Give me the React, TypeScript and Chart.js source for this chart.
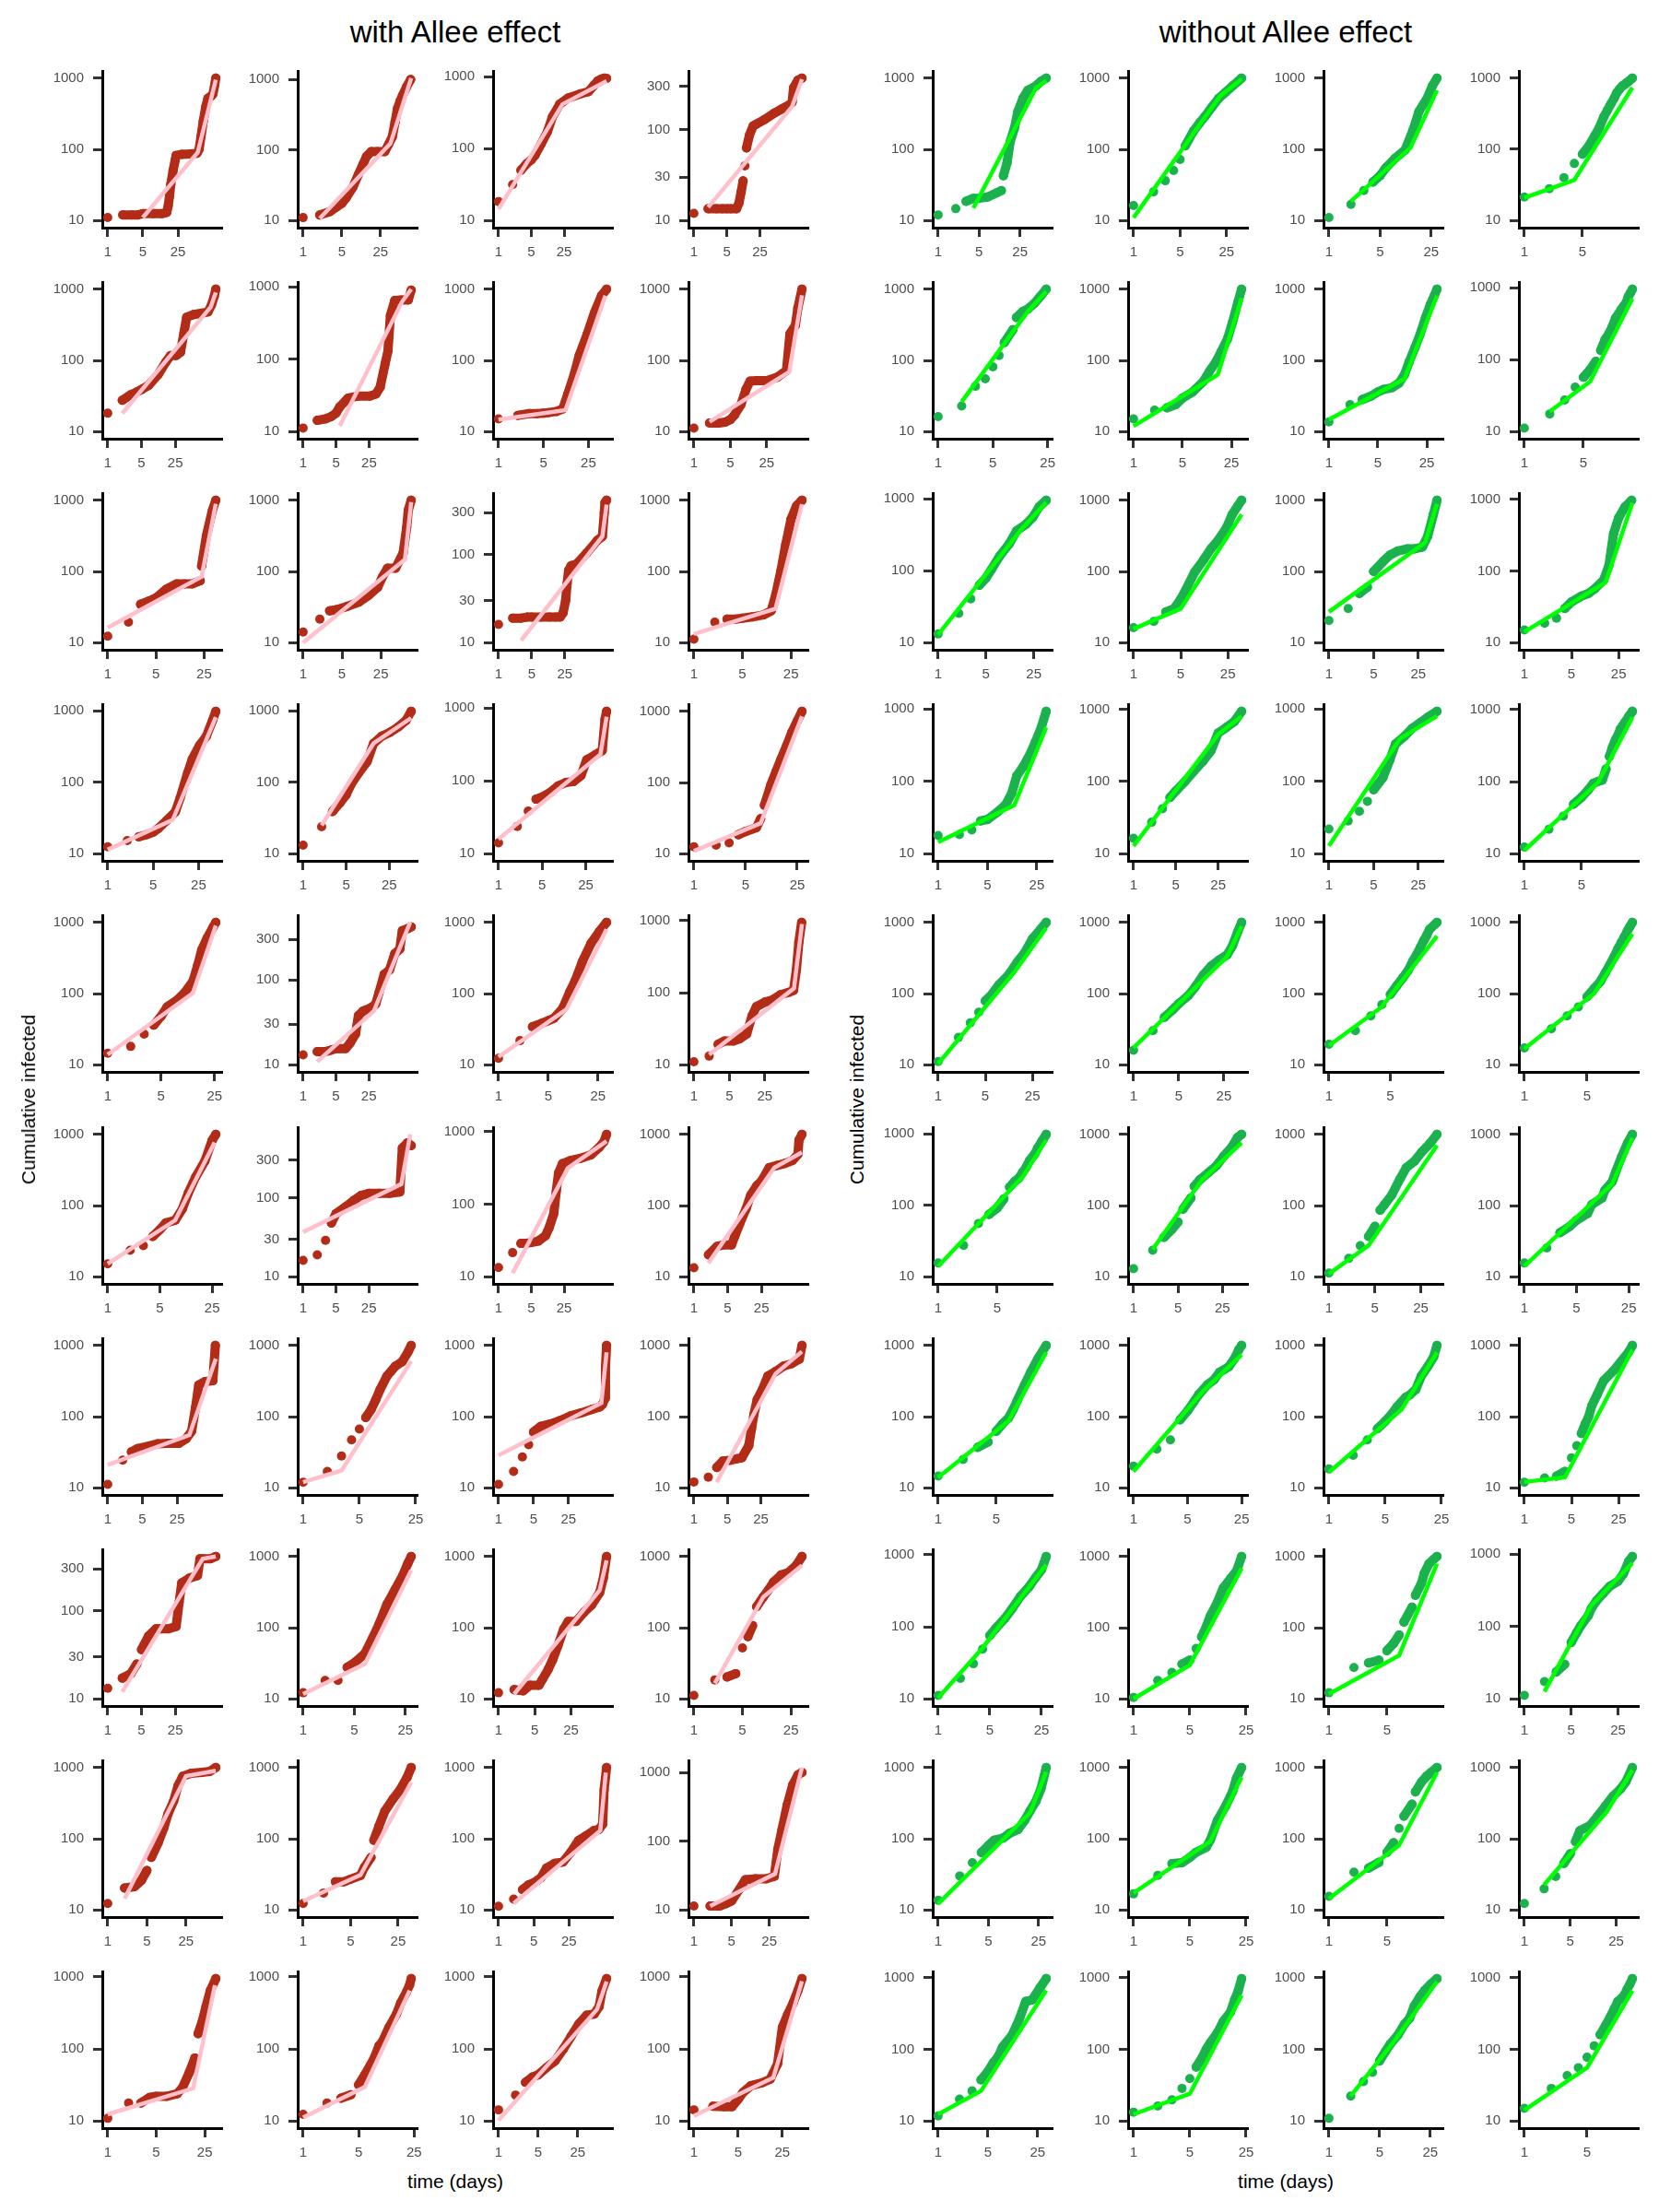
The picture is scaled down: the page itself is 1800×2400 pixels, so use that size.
import React, { useEffect, useRef } from "react";
import { Chart, registerables } from "chart.js";

Chart.register(...registerables);

type P = [number, number];

// ---------- texts & tick labels ----------
const GROUP_TITLES = ["with Allee effect", "without Allee effect"];
const Y_AXIS_TITLE = "Cumulative infected";
const X_AXIS_TITLE = "time (days)";
const X_TICKS = [1, 5, 25];
const Y_TICKS_WIDE = [10, 100, 1000];
const Y_TICKS_NARROW = [10, 30, 100, 300];
// starting case count (day 0, not drawable on a log time axis, but part of the y range)
const START_COUNT = 10;

// ---------- "with Allee effect" : observed points (day, cumulative) per row, 4 panels each ----------
const A_R0_PTS: P[][] = [
  [[1,11],[2,12],[3,12],[4,12],[5,12.5],[8,12.5],[12,12.5],[15,13],[16,16],[17,22],[18,32],[20,50],[22,70],[23,82],[30,85],[45,86],[60,88],[66,100],[72,150],[80,250],[90,400],[99,520],[115,560],[125,600],[135,800],[142,1000]],
  [[1,11],[2,12],[3,13.3],[4,15.5],[5,17.5],[6,21],[8,30],[10,45],[12,62],[14,81],[17,95],[22,95],[30,95],[35,120],[41,154],[46,250],[51,390],[57,500],[63,600],[75,800],[88,1000]],
  [[1,18.4],[2,31.6],[3,50],[4,62],[5,70],[6,81],[8,115],[11,172],[14,275],[20,415],[30,505],[56,580],[82,620],[107,760],[130,880],[155,930],[180,960],[200,950]],
  [[1,12],[2,13.5],[3,13.5],[4,13.5],[5,13.5],[6,13.5],[8,13.5],[9,15.6],[10,20.6],[11,27.3],[12,40],[13,63],[15,87],[18,110],[21,115],[31,129],[51,153],[74,170],[108,190],[120,200],[129,290],[159,350],[194,370]],
];
const A_R0_FIT: P[][] = [[[5,11],[62,90],[142,950]], [[2,10.7],[38,124],[90,1050]], [[1,14.4],[23,415],[200,870]], [[2,14],[120,180],[194,360]]];

const A_R1_PTS: P[][] = [
  [[1,18.1],[2,27.5],[3,33],[4,36],[5,39],[7,44.5],[11,63],[16,95],[20,117],[26,117],[32,130],[38,250],[43,404],[60,440],[90,460],[119,480],[140,600],[160,800],[172,1000]],
  [[1,11.2],[2,14.3],[3,15],[4,16.2],[5,18],[6,22],[9,29],[15,31],[26,31],[35,33],[43,41],[55,87],[63,130],[71,400],[88,650],[120,660],[170,660],[196,900]],
  [[1,15.1],[2,16.9],[3,17.9],[4,17.9],[5,18.1],[6,18.5],[8,19.2],[10,20.8],[12,33.8],[15,63],[18,117],[24,234],[31,465],[40,810],[48,1000]],
  [[1,11.2],[2,13.2],[3,13.2],[4,13.6],[5,14.7],[6,17],[8,23.9],[10,39],[12,51],[16,52],[25,52],[40,58],[60,72],[70,237],[89,310],[99,540],[119,1000]],
];
const A_R1_FIT: P[][] = [[[2,18],[135,560],[172,900]], [[6,12],[125,620],[196,930]], [[1,14.7],[11,20],[46,810]], [[2,13.7],[68,69],[119,820]]];

const A_R2_PTS: P[][] = [
  [[1,12.3],[2,19.4],[3,34.6],[4,38.6],[5,42.5],[7,56],[10,67],[13,67],[17,67],[22,74],[23,119],[27,315],[33,720],[37,1000]],
  [[1,14.1],[2,21.4],[3,28],[4,29],[6,32],[10,37],[15,46],[22,60],[27,85],[33,111],[46,111],[63,181],[73,415],[78,720],[88,1000]],
  [[1,16.1],[2,19],[3,19],[4,19.5],[5,19.5],[8,19.5],[12,19.5],[16,19.5],[20,19.5],[23,21.8],[26,30],[28,47],[30,66],[34,75],[44,78],[72,104],[121,145],[155,161],[170,300],[176,390],[190,415]],
  [[1,11.2],[2,19.4],[3,21.4],[4,21.4],[5,22],[7,23],[10,24.5],[13,28],[15,46],[18,104],[21,238],[25,540],[30,830],[36,1000]],
];
const A_R2_FIT: P[][] = [[[1,16.2],[23,84],[37,890]], [[1,10],[68,147],[88,940]], [[3,10.6],[155,161],[190,370]], [[1,13.2],[15,30],[36,880]]];

const A_R3_PTS: P[][] = [
  [[1,12.5],[2,15.3],[3,17.2],[4,18.5],[5,20],[6,22.5],[8,28.9],[11,38.7],[13,60],[17,135],[20,210],[26,330],[33,440],[41,730],[46,980]],
  [[1,13.2],[2,23.8],[3,38.8],[4,52],[5,66.5],[6,93],[8,135],[11,195],[14,350],[19,440],[26,500],[35,590],[47,730],[57,980]],
  [[1,14.1],[2,23.7],[3,38.5],[4,56],[5,60],[7,71],[9,85],[12,95],[16,98],[21,118],[26,195],[35,225],[46,260],[51,700],[54,900]],
  [[1,12.5],[2,13.2],[3,14.2],[4,18.5],[5,20.5],[7,23.2],[8,31],[9,48],[11,93],[13,145],[15,210],[18,330],[21,500],[25,730],[29,1000]],
];
const A_R3_FIT: P[][] = [[[1,11.4],[10,29.7],[46,810]], [[2,24.9],[14,350],[57,790]], [[1,15.8],[43,230],[54,760]], [[1,10.9],[8,26.8],[29,850]]];

const A_R4_PTS: P[][] = [
  [[1,14.5],[2,18.1],[3,26.9],[4,36],[5,48],[6,65],[8,80],[10,101],[13,147],[15,245],[17,410],[20,600],[24,860],[26,1000]],
  [[1,13.1],[2,14.3],[3,14.3],[4,14.9],[5,15.5],[6,15.5],[8,15.5],[10,18],[13,23],[15,37.9],[19,43],[28,47],[35,52],[41,70],[53,116],[69,131],[89,203],[114,230],[129,380],[167,400],[199,420]],
  [[1,12.3],[2,21.8],[3,34.2],[4,38],[5,41.6],[6,45],[8,62],[10,105],[12,153],[15,278],[20,510],[26,740],[33,1000]],
  [[1,11],[2,13.2],[3,19.3],[4,21.4],[6,21.4],[8,23],[11,26.7],[14,48],[17,64],[25,74],[36,80],[51,94],[73,101],[92,108],[105,210],[117,500],[133,950]],
];
const A_R4_FIT: P[][] = [[[1,13.9],[13,101],[26,900]], [[2,10.9],[32,43],[190,475]], [[1,12.9],[9,60],[33,800]], [[2,13.8],[94,115],[135,900]]];

const A_R5_PTS: P[][] = [
  [[1,15.2],[2,23.6],[3,27.4],[4,36.8],[5,46],[6,57],[8,62],[10,90],[12,150],[15,250],[20,420],[25,820],[28,1000]],
  [[1,16.1],[2,19],[3,29],[4,48],[5,63],[8,77],[12,93],[17,107],[25,114],[41,114],[69,114],[114,119],[129,430],[167,500],[199,460]],
  [[1,13.4],[2,21.5],[3,28.8],[4,29],[5,29.7],[7,31],[10,36.7],[12,47.7],[15,74],[17,152],[19,270],[23,362],[34,400],[56,430],[93,480],[137,600],[176,730],[200,920]],
  [[1,13.4],[2,20.3],[3,26.6],[4,28],[6,28],[7,36.8],[9,57],[12,90],[15,140],[20,190],[25,220],[36,340],[52,365],[76,390],[110,430],[142,525],[149,830],[172,1000]],
];
const A_R5_FIT: P[][] = [[[1,15.2],[8,62],[27,770]], [[1,37],[123,150],[190,640]], [[2,11.2],[30,315],[200,740]], [[2,15.6],[46,340],[172,560]]];

const A_R6_PTS: P[][] = [
  [[1,11.2],[2,24.4],[3,32],[4,35.5],[6,37.8],[10,41.5],[16,42],[27,42],[38,49],[49,62.5],[59,137],[68,278],[91,310],[131,320],[147,1000]],
  [[1,12],[2,17],[3,28],[4,47],[5,67],[6,97],[7,126],[8,173],[9,237],[11,370],[14,510],[17,590],[20,800],[22,1000]],
  [[1,11.2],[2,17],[3,27.2],[4,40.4],[5,60.7],[7,73],[11,79],[17,88],[28,103],[45,113],[73,126],[106,137],[119,148],[133,180],[137,500],[144,1000]],
  [[1,12.1],[2,14.1],[3,19.3],[4,23.7],[6,24.5],[8,25.6],[10,26.4],[14,39],[16,68],[18,108],[21,173],[27,240],[35,370],[51,430],[74,510],[108,550],[159,640],[181,1000]],
];
const A_R6_FIT: P[][] = [[[1,21],[44,55],[150,650]], [[1,12],[3,17.5],[22,600]], [[1,28.6],[113,155],[144,800]], [[3,12],[51,400],[181,820]]];

const A_R7_PTS: P[][] = [
  [[1,13.2],[2,17.2],[3,19.3],[4,24.9],[5,36.3],[7,51.8],[10,62.6],[12,62.6],[18,62.6],[26,66.5],[30,125],[34,208],[49,236],[72,252],[81,390],[92,390],[134,390],[172,415]],
  [[1,12.2],[2,18.2],[3,18.2],[4,27.8],[5,32],[7,43.4],[9,73],[11,114],[14,213],[18,340],[23,540],[27,800],[30,1000]],
  [[1,12.2],[2,13.5],[3,13],[4,15.5],[6,15.5],[7,18.7],[9,25.6],[11,35],[14,56],[18,95],[22,122],[31,122],[45,166],[63,210],[89,310],[105,500],[121,1000]],
  [[1,11.2],[2,18.5],[3,20.3],[4,22.6],[5,52],[6,75],[7,107],[8,197],[10,270],[12,345],[14,436],[18,550],[23,595],[30,755],[36,1000]],
];
const A_R7_FIT: P[][] = [[[2,12],[92,390],[172,415]], [[1,11.7],[7,31],[30,640]], [[2,11.7],[89,335],[121,880]], [[2,16.5],[10,270],[36,750]]];

const A_R8_PTS: P[][] = [
  [[1,12.3],[2,20.3],[3,21.2],[4,26],[5,35.8],[6,54.6],[8,88.5],[10,141],[12,226],[15,336],[18,554],[22,756],[31,830],[48,855],[66,880],[85,1000]],
  [[1,12.3],[2,17.3],[3,24.9],[4,24.9],[5,27],[7,30.5],[8,39.8],[10,54.6],[11,95],[13,148],[16,245],[21,360],[27,492],[34,730],[39,1000]],
  [[1,11.3],[2,14.2],[3,19.3],[4,22.6],[5,24],[7,28.4],[9,38.7],[13,45],[19,47],[27,64],[39,95],[55,110],[78,130],[98,135],[117,160],[125,485],[140,1000]],
  [[1,11.4],[2,11.4],[3,11.4],[4,12.4],[5,13.5],[7,20],[9,27.5],[14,28.4],[22,28.4],[31,30.8],[36,76],[43,147],[54,340],[68,660],[85,920],[101,1000]],
];
const A_R8_FIT: P[][] = [[[2,14.4],[25,760],[85,900]], [[1,13.3],[7,31],[39,620]], [[2,12.3],[105,130],[135,850]], [[2,11.4],[32,33.5],[101,1180]]];

const A_R9_PTS: P[][] = [
  [[1,10.9],[2,17.8],[3,17.8],[4,21.2],[5,22],[7,22],[10,23.9],[12,29.3],[15,47.5],[18,75],[20,163],[23,243],[26,387],[30,645],[36,950]],
  [[1,12.4],[2,17.8],[3,20.8],[4,23.2],[5,31.8],[6,44],[7,59],[8,78],[9,110],[10,127],[12,197],[15,305],[17,436],[20,615],[22,780],[23,950]],
  [[1,14.3],[2,22.9],[3,34.4],[4,41],[5,43.6],[7,55],[10,68.5],[14,100],[19,148],[26,220],[36,295],[49,305],[60,390],[67,635],[81,950]],
  [[1,14.3],[2,16],[3,15.8],[4,15.8],[5,20],[6,25],[8,31],[12,34],[16,38],[21,62],[25,200],[30,295],[37,436],[44,645],[51,950]],
];
const A_R9_FIT: P[][] = [[[1,12.4],[17,28.4],[35,770]], [[1,11.2],[6,29.8],[22,650]], [[1,10.2],[55,355],[81,860]], [[1,11.8],[18,40],[51,870]]];

// ---------- "without Allee effect" ----------
const B_R0_PTS: P[][] = [
  [[1,12],[2,14.7],[3,18.6],[4,20.5],[5,20.5],[7,21.4],[10,24.5],[12,26.3],[13,42.6],[15,64.5],[17,128],[20,196],[23,340],[28,520],[34,675],[47,780],[57,900],[70,1000]],
  [[1,16.2],[2,25.3],[3,36.2],[4,50.4],[5,72],[6,112],[8,182],[10,240],[12,295],[15,390],[19,520],[24,630],[31,780],[37,900],[42,1000]],
  [[1,11],[2,16.9],[3,26.3],[4,34.7],[5,42.6],[6,55],[8,74.5],[11,98],[14,182],[17,340],[22,520],[26,780],[30,1000]],
  [[1,21.4],[2,27.9],[3,39.8],[4,63],[5,85],[6,112],[7,152],[8,201],[9,280],[10,350],[11,430],[12,510],[13,620],[14,690],[15,760],[16,800],[17,850],[18,890],[19,940],[20,990]],
];
const B_R0_FIT: P[][] = [[[4,15],[47,730],[70,920]], [[1,11],[20,560],[42,960]], [[2,18.6],[13,105],[30,675]], [[1,20.8],[4,37],[20,730]]];

const B_R1_PTS: P[][] = [
  [[1,16.2],[2,22.9],[3,43.3],[4,55],[5,81],[6,117],[7,178],[9,270],[10,400],[12,485],[14,525],[17,633],[20,780],[24,1000]],
  [[1,15.1],[2,20],[3,21.6],[4,23.9],[5,29.4],[7,36],[10,51],[12,69],[15,95],[18,135],[22,200],[26,345],[31,660],[35,1000]],
  [[1,13.7],[2,23.9],[3,28.2],[4,31.5],[5,36],[6,39],[8,41.5],[10,47.7],[12,63],[14,95],[17,152],[20,230],[24,400],[28,600],[32,810],[35,1000]],
  [[1,11.2],[2,17.6],[3,27.5],[4,41.5],[5,57],[6,72.6],[7,95],[8,135],[9,190],[10,230],[11,290],[12,380],[13,435],[14,500],[15,560],[16,617],[17,760],[18,850],[19,960]],
];
const B_R1_FIT: P[][] = [[[2,26.3],[14,485],[24,930]], [[1,11.9],[16,63],[35,750]], [[1,14.7],[12,55],[35,810]], [[2,19],[6,49.5],[19,710]]];

const B_R2_PTS: P[][] = [
  [[1,13.2],[2,25.6],[3,40.8],[4,63],[5,79],[6,104],[8,162],[11,239],[14,360],[19,440],[24,550],[30,780],[38,960]],
  [[1,16.2],[2,19.9],[3,27],[4,30],[5,40.8],[6,56],[8,97],[11,147],[14,208],[18,275],[24,415],[29,630],[35,830],[40,1000]],
  [[1,20.5],[2,30.2],[3,49],[4,60],[5,100],[7,137],[9,170],[12,194],[17,208],[22,208],[29,220],[35,311],[43,630],[49,1000]],
  [[1,15],[2,18.6],[3,22],[4,30],[5,37],[7,44.5],[9,48.8],[11,56],[15,75],[18,120],[21,330],[25,550],[31,780],[39,970]],
];
const B_R2_FIT: P[][] = [[[1,12.9],[17,390],[38,900]], [[1,15.6],[5,30],[40,630]], [[1,27],[32,255],[49,890]], [[1,14.1],[16,69],[40,890]]];

const B_R3_PTS: P[][] = [
  [[1,17.9],[2,18.4],[3,21.3],[4,28.4],[5,29.7],[7,38],[9,47.3],[11,68],[13,119],[16,159],[20,236],[24,355],[29,560],[34,930]],
  [[1,16.4],[2,27.3],[3,42],[4,60],[5,74],[7,99],[10,140],[14,191],[19,266],[25,470],[34,560],[46,675],[61,940]],
  [[1,21.9],[2,28.4],[3,38.5],[4,53],[5,76.5],[7,113],[9,200],[11,330],[15,415],[20,540],[27,650],[35,770],[49,930]],
  [[1,12.4],[2,21.9],[3,33.3],[4,48.7],[5,60.6],[6,76],[7,95],[8,101],[9,105],[10,150],[11,224],[12,305],[13,380],[14,445],[15,540],[16,600],[17,665],[19,810],[21,950]],
];
const B_R3_FIT: P[][] = [[[1,14.4],[12,47],[34,560]], [[1,12.8],[25,450],[61,800]], [[1,12.8],[13,390],[49,800]], [[1,11.1],[8,98],[21,780]]];

const B_R4_PTS: P[][] = [
  [[1,11.1],[2,24.2],[3,38.8],[4,54.6],[5,78.9],[6,93],[8,134],[11,181],[15,280],[19,370],[25,590],[33,800],[40,1000]],
  [[1,16],[2,30.2],[3,46.4],[4,58.7],[5,72],[7,93],[9,124],[12,183],[16,245],[21,295],[28,350],[34,470],[41,740],[47,1000]],
  [[1,19.4],[2,30.2],[3,48.5],[4,70],[5,97],[6,132],[7,169],[8,212],[9,285],[10,355],[11,445],[12,555],[13,660],[14,800],[16,930],[17,1000]],
  [[1,17.2],[2,32],[3,48.5],[4,65],[5,90],[6,118],[7,146],[8,197],[9,255],[10,330],[11,420],[12,520],[13,620],[14,750],[15,870],[16,1000]],
];
const B_R4_FIT: P[][] = [[[1,10.3],[14,210],[40,840]], [[1,17.3],[28,330],[47,880]], [[1,18.6],[4,65],[17,640]], [[1,16.7],[6,100],[16,690]]];

const B_R5_PTS: P[][] = [
  [[1,15.6],[2,27.4],[3,55.6],[4,74.5],[5,91.5],[6,123],[7,180],[8,215],[9,240],[10,290],[11,340],[12,420],[14,530],[15,630],[17,800],[19,985]],
  [[1,13],[2,23.6],[3,35.7],[4,46],[5,58.6],[6,89],[8,128],[9,186],[11,230],[15,290],[20,360],[26,490],[35,660],[43,900],[50,1000]],
  [[1,11.3],[2,18.1],[3,27.4],[4,36.8],[5,51],[6,86],[7,103],[9,140],[12,235],[15,340],[20,420],[26,570],[35,760],[44,1000]],
  [[1,15.6],[2,25.4],[3,41.6],[4,50.4],[5,62],[7,77],[8,103],[11,128],[12,165],[15,215],[17,310],[20,480],[24,750],[28,1000]],
];
const B_R5_FIT: P[][] = [[[1,14],[10,250],[19,820]], [[2,24.3],[12,230],[50,760]], [[1,11],[4,27.4],[44,700]], [[1,14],[15,200],[28,890]]];

const B_R6_PTS: P[][] = [
  [[1,14.6],[2,25],[3,37],[4,44],[5,62],[6,80],[7,95],[8,126],[9,170],[11,280],[13,420],[16,660],[20,1000]],
  [[1,20.2],[2,35],[3,47],[4,90],[5,120],[6,160],[7,205],[9,280],[11,330],[13,420],[17,500],[20,640],[23,870],[25,1000]],
  [[1,18.4],[2,28.6],[3,47],[4,67.5],[5,86],[6,108],[7,137],[9,187],[10,200],[12,240],[14,370],[17,510],[20,690],[22,1000]],
  [[1,12],[2,13.8],[3,14.6],[4,17],[5,26.4],[6,39],[7,58],[8,79],[9,100],[10,142],[12,203],[15,320],[21,440],[27,590],[35,800],[40,1000]],
];
const B_R6_FIT: P[][] = [[[1,14],[7,86],[20,800]], [[1,17],[8,230],[25,740]], [[1,16.5],[8,126],[22,800]], [[1,12.1],[4,14],[40,870]]];

const B_R7_PTS: P[][] = [
  [[1,11.2],[2,19.3],[3,30.8],[4,49],[5,76],[6,95],[8,131],[10,178],[13,265],[17,360],[21,490],[25,620],[29,950]],
  [[1,10.5],[2,18.1],[3,23.6],[4,30.8],[5,35],[6,51],[7,74],[8,103],[9,146],[11,227],[13,360],[16,490],[19,620],[22,1000]],
  [[1,12.2],[2,27.6],[3,32],[4,35],[5,47.5],[6,60],[7,79],[8,120],[10,194],[11,285],[13,420],[14,575],[16,790],[18,900],[20,1000]],
  [[1,11.2],[2,17.3],[3,23.6],[4,30],[5,60],[6,81],[7,103],[9,141],[10,177],[12,227],[15,285],[19,360],[25,420],[30,530],[36,790],[41,925]],
];
const B_R7_FIT: P[][] = [[[1,10.3],[4,51],[29,730]], [[1,10],[5,29.8],[22,680]], [[1,11.7],[7,40.7],[20,790]], [[2,12.6],[10,195],[41,750]]];

const B_R8_PTS: P[][] = [
  [[1,13.7],[2,30],[3,46],[4,64],[5,80],[6,95],[8,102],[10,120],[13,135],[16,180],[19,245],[23,335],[27,500],[32,1000]],
  [[1,16.8],[2,30.6],[3,44.6],[4,46],[5,54.6],[6,64.5],[8,76],[9,96],[11,180],[14,290],[17,460],[19,710],[22,1000]],
  [[1,15.5],[2,34],[3,38.6],[4,46.6],[5,64.5],[6,88],[7,140],[8,207],[10,305],[11,455],[13,625],[15,755],[17,855],[20,1000]],
  [[1,12.3],[2,19.8],[3,29.5],[4,45],[5,61.5],[6,91],[7,130],[10,153],[13,207],[17,285],[22,390],[29,500],[35,630],[44,1000]],
];
const B_R8_FIT: P[][] = [[[1,12.2],[19,230],[32,870]], [[1,17.3],[9,92],[22,730]], [[1,14.4],[7,81],[20,855]], [[2,22.5],[18,240],[44,920]]];

const B_R9_PTS: P[][] = [
  [[1,11.8],[2,20.2],[3,26.3],[4,37.5],[5,48.9],[6,65.6],[7,79.6],[8,107],[11,159],[14,272],[17,465],[21,490],[27,720],[33,970]],
  [[1,13.3],[2,16.2],[3,19.7],[4,28.5],[5,39],[6,56.6],[7,74.4],[8,100],[9,124],[11,169],[13,245],[16,330],[18,490],[20,655],[22,970]],
  [[1,10.9],[2,22.3],[3,35.4],[4,47.6],[5,68.8],[6,93],[7,118],[9,159],[11,224],[13,271],[15,400],[18,540],[21,667],[25,800],[31,970]],
  [[1,15],[2,28.5],[3,43.1],[4,55.5],[5,77.5],[6,112],[7,160],[8,213],[9,277],[10,363],[11,465],[12,510],[13,567],[14,690],[15,810],[16,970]],
];
const B_R9_FIT: P[][] = [[[1,12.4],[4,26.3],[33,665]], [[1,12.4],[5,24],[22,565]], [[2,22.3],[8,130],[31,880]], [[1,14.1],[5,55.5],[16,660]]];

const ALLEE_PTS = [A_R0_PTS, A_R1_PTS, A_R2_PTS, A_R3_PTS, A_R4_PTS, A_R5_PTS, A_R6_PTS, A_R7_PTS, A_R8_PTS, A_R9_PTS];
const ALLEE_FIT = [A_R0_FIT, A_R1_FIT, A_R2_FIT, A_R3_FIT, A_R4_FIT, A_R5_FIT, A_R6_FIT, A_R7_FIT, A_R8_FIT, A_R9_FIT];
const NO_ALLEE_PTS = [B_R0_PTS, B_R1_PTS, B_R2_PTS, B_R3_PTS, B_R4_PTS, B_R5_PTS, B_R6_PTS, B_R7_PTS, B_R8_PTS, B_R9_PTS];
const NO_ALLEE_FIT = [B_R0_FIT, B_R1_FIT, B_R2_FIT, B_R3_FIT, B_R4_FIT, B_R5_FIT, B_R6_FIT, B_R7_FIT, B_R8_FIT, B_R9_FIT];

// ---------- layout & style ----------
const FONT = "'Liberation Sans', Arial, Helvetica, sans-serif";
const RED = "#B22C18";
const PINK = "#FFC0CB";
const GREEN_PT = "#1BB24E";
const GREEN_LINE = "#00FF00";

const PW = 129, PH = 170, YW = 70, XH = 45, PT = 10, PR = 11;
const CW = YW + PW + PR, CH = PT + PH + XH;
const AXIS_X0 = 111, COL_STEP = 212, GROUP_STEP = 901;
const AXIS_Y0 = 247, ROW_STEP = 229.1;

Chart.defaults.font.family = FONT;

function Panel(props: { pts: P[]; fit: P[]; pointColor: string; lineColor: string; left: number; top: number }) {
  const { pts, fit, pointColor, lineColor, left, top } = props;
  const ref = useRef<HTMLCanvasElement | null>(null);
  useEffect(() => {
    const canvas = ref.current;
    if (!canvas) return;
    const xs = pts.map((p) => p[0]).concat(fit.map((p) => p[0]));
    const ys = pts.map((p) => p[1]).concat(fit.map((p) => p[1]), [START_COUNT]);
    const lx0 = Math.log10(Math.min(...xs)), lx1 = Math.log10(Math.max(...xs));
    const ly0 = Math.log10(Math.min(...ys)), ly1 = Math.log10(Math.max(...ys));
    const ex = (lx1 - lx0) * 0.05, ey = (ly1 - ly0) * 0.05;
    const xMin = Math.pow(10, lx0 - ex), xMax = Math.pow(10, lx1 + ex);
    const yMin = Math.pow(10, ly0 - ey), yMax = Math.pow(10, ly1 + ey);
    const yTicks = (yMax >= 1000 ? Y_TICKS_WIDE : Y_TICKS_NARROW).filter((v) => v >= yMin && v <= yMax);
    const xTicks = X_TICKS.filter((v) => v >= xMin && v <= xMax);

    const axis = (ticks: number[], isX: boolean, min: number, max: number) => ({
      type: "logarithmic" as const,
      bounds: "data" as const,
      min,
      max,
      afterBuildTicks: (s: any) => {
        s.ticks = ticks.map((v) => ({ value: v }));
      },
      afterFit: (s: any) => {
        if (isX) s.height = XH;
        else s.width = YW;
        s.paddingTop = 0;
        s.paddingBottom = 0;
        s.paddingLeft = 0;
        s.paddingRight = 0;
      },
      grid: {
        display: true,
        drawOnChartArea: false,
        drawTicks: true,
        tickLength: 10,
        tickWidth: 3,
        tickColor: "#333333",
        color: "#333333",
        lineWidth: 3,
      },
      border: { display: true, color: "#000000", width: 3 },
      ticks: {
        autoSkip: false,
        maxRotation: 0,
        minRotation: 0,
        padding: isX ? 8 : 10,
        color: "#4D4D4D",
        font: { family: FONT, size: 15 },
        callback: (v: any) => String(v),
      },
    });

    const segColor = (ctx: any) => {
      const a = pts[ctx.p0DataIndex][0];
      const b = pts[ctx.p1DataIndex][0];
      const d = Math.hypot(ctx.p1.x - ctx.p0.x, ctx.p1.y - ctx.p0.y) / Math.max(1, b - a);
      return d < 13 ? pointColor : "rgba(0,0,0,0)";
    };

    const chart = new Chart(canvas, {
      type: "line",
      data: {
        datasets: [
          {
            data: fit.map(([x, y]) => ({ x, y })),
            borderColor: lineColor,
            borderWidth: 4.5,
            pointRadius: 0,
            tension: 0,
            fill: false,
            order: 0,
            clip: 12,
          } as any,
          {
            data: pts.map(([x, y]) => ({ x, y })),
            borderColor: pointColor,
            backgroundColor: pointColor,
            pointBackgroundColor: pointColor,
            pointBorderColor: pointColor,
            pointBorderWidth: 0,
            pointRadius: 5,
            borderWidth: 10,
            borderCapStyle: "round",
            borderJoinStyle: "round",
            tension: 0,
            fill: false,
            order: 1,
            clip: 12,
            segment: { borderColor: segColor },
          } as any,
        ],
      },
      options: {
        animation: false,
        responsive: false,
        maintainAspectRatio: false,
        devicePixelRatio: 1,
        events: [],
        layout: { padding: { top: PT, right: PR, bottom: 0, left: 0 } },
        plugins: { legend: { display: false }, tooltip: { enabled: false }, title: { display: false } },
        scales: {
          x: axis(xTicks, true, xMin, xMax) as any,
          y: axis(yTicks, false, yMin, yMax) as any,
        },
      },
    });
    return () => chart.destroy();
  }, [pts, fit, pointColor, lineColor]);

  return (
    <canvas
      ref={ref}
      width={CW}
      height={CH}
      style={{ position: "absolute", left, top, width: CW, height: CH }}
    />
  );
}

export default function App() {
  const groups = [
    { pts: ALLEE_PTS, fit: ALLEE_FIT, pc: RED, lc: PINK },
    { pts: NO_ALLEE_PTS, fit: NO_ALLEE_FIT, pc: GREEN_PT, lc: GREEN_LINE },
  ];
  const panels: React.ReactNode[] = [];
  groups.forEach((g, gi) =>
    g.pts.forEach((row, r) =>
      row.forEach((pts, c) => {
        const axisX = AXIS_X0 + c * COL_STEP + gi * GROUP_STEP;
        const axisY = AXIS_Y0 + r * ROW_STEP;
        panels.push(
          <Panel
            key={`${gi}-${r}-${c}`}
            pts={pts}
            fit={g.fit[r][c]}
            pointColor={g.pc}
            lineColor={g.lc}
            left={Math.round(axisX - YW)}
            top={Math.round(axisY - PH - PT)}
          />
        );
      })
    )
  );
  const centers = [494, 1395];
  const yTitleX = [31, 930];
  return (
    <div
      style={{
        position: "absolute",
        left: 0,
        top: 0,
        width: 1800,
        height: 2400,
        background: "#ffffff",
        overflow: "hidden",
        fontFamily: FONT,
        color: "#000000",
      }}
    >
      {panels}
      {GROUP_TITLES.map((t, i) => (
        <div
          key={"t" + i}
          style={{
            position: "absolute",
            left: centers[i] - 300,
            width: 600,
            top: 15,
            height: 40,
            lineHeight: "40px",
            fontSize: 33,
            textAlign: "center",
            whiteSpace: "nowrap",
          }}
        >
          {t}
        </div>
      ))}
      {yTitleX.map((x, i) => (
        <div
          key={"y" + i}
          style={{
            position: "absolute",
            left: x,
            top: 1193,
            transform: "translate(-50%, -50%) rotate(-90deg)",
            fontSize: 21,
            lineHeight: "24px",
            whiteSpace: "nowrap",
          }}
        >
          {Y_AXIS_TITLE}
        </div>
      ))}
      {centers.map((x, i) => (
        <div
          key={"x" + i}
          style={{
            position: "absolute",
            left: x - 150,
            width: 300,
            top: 2355,
            height: 24,
            lineHeight: "24px",
            fontSize: 21,
            textAlign: "center",
            whiteSpace: "nowrap",
          }}
        >
          {X_AXIS_TITLE}
        </div>
      ))}
    </div>
  );
}
